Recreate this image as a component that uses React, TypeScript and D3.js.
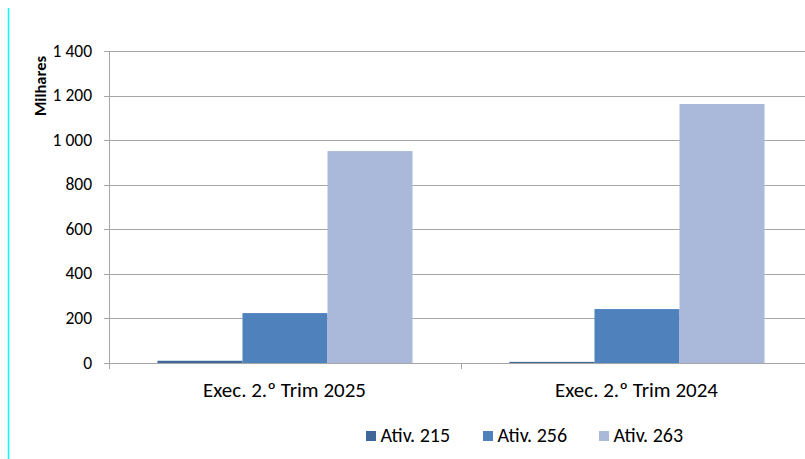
import React from "react";
import * as d3 from "d3";

const categories = ["Exec. 2.º Trim 2025", "Exec. 2.º Trim 2024"];
const seriesNames = ["Ativ. 215", "Ativ. 256", "Ativ. 263"];
const ativ215 = [10, 5];
const ativ256 = [224, 242];
const ativ263 = [951, 1162];
const yTicks = [0, 200, 400, 600, 800, 1000, 1200, 1400];
const colors = ["#3F6797", "#4F81BD", "#AAB9D9"];

const W = 805;
const H = 459;
const font = "Carlito, Calibri, 'Open Sans', 'Liberation Sans', sans-serif";

export default function App() {
  const seriesValues = [ativ215, ativ256, ativ263];
  const left = 109;
  const right = 813;
  const top = 51;
  const bottom = 363;
  const y = d3.scaleLinear().domain([0, 1400]).range([bottom, top]);
  const x0 = d3.scaleBand<string>().domain(categories).range([left, right]).paddingInner(0).paddingOuter(0);
  const x1 = d3.scaleBand<string>().domain(seriesNames).range([0, x0.bandwidth()]).paddingOuter(0.57).paddingInner(0);
  const fmt = (v: number) => d3.format(",")(v).replace(/,/g, " ");

  return (
    <svg width={W} height={H} style={{ position: "absolute", left: 0, top: 0, display: "block" }}>
      <rect x={0} y={0} width={W} height={H} fill="#fff" />
      <line x1={8.5} x2={8.5} y1={8} y2={459} stroke="#00FFFF" strokeWidth={1.5} />
      {yTicks.map((t) => (
        <g key={t}>
          <line x1={left - 5} x2={right} y1={Math.round(y(t)) + 0.5} y2={Math.round(y(t)) + 0.5} stroke="#A6A6A6" strokeWidth={1} />
          <text x={92} y={y(t) + 5.5} textAnchor="end" fontFamily={font} fontSize={17.5} fill="#000">
            {fmt(t)}
          </text>
        </g>
      ))}
      <line x1={left + 0.5} x2={left + 0.5} y1={top} y2={369} stroke="#A6A6A6" strokeWidth={1} />
      {categories.map((c, i) => (
        <line key={"t" + i} x1={Math.round(x0(c)! + x0.bandwidth()) + 0.5} x2={Math.round(x0(c)! + x0.bandwidth()) + 0.5} y1={bottom} y2={369} stroke="#A6A6A6" strokeWidth={1} />
      ))}
      {seriesNames.map((s, si) =>
        categories.map((c, ci) => {
          const v = seriesValues[si][ci];
          return (
            <rect
              key={s + c}
              x={x0(c)! + x1(s)!}
              y={y(v)}
              width={x1.bandwidth()}
              height={bottom - y(v)}
              fill={colors[si]}
            />
          );
        })
      )}
      {categories.map((c) => (
        <text key={c} x={x0(c)! + x0.bandwidth() / 2 - 0.5} y={397} textAnchor="middle" fontFamily={font} fontSize={21} fill="#000">
          {c}
        </text>
      ))}
      <text transform="translate(46,86) rotate(-90)" textAnchor="middle" fontFamily={font} fontSize={16.5} fontWeight="bold" fill="#000">
        Milhares
      </text>
      {seriesNames.map((s, i) => {
        const lx = [366, 483, 599][i];
        return (
          <g key={s}>
            <rect x={lx} y={431} width={10} height={10} fill={colors[i]} />
            <text x={lx + 14.5} y={441.5} fontFamily={font} fontSize={20} fill="#000">
              {s}
            </text>
          </g>
        );
      })}
    </svg>
  );
}
